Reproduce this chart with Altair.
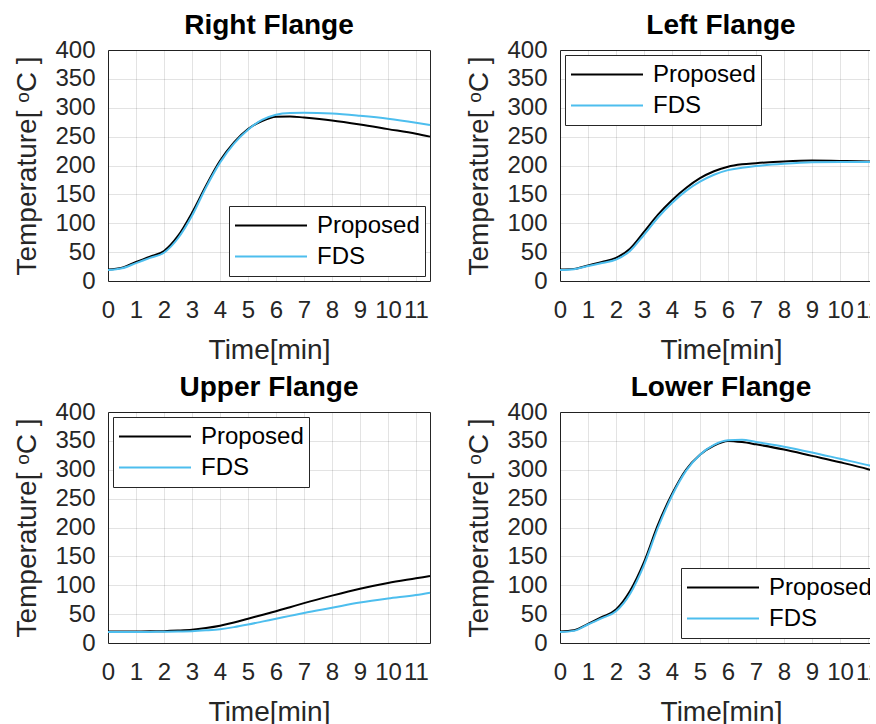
import altair as alt
import pandas as pd

# ---- data ----
times = [0, 0.5, 1, 1.5, 2, 2.5, 3, 3.5, 4, 4.5, 5, 5.5, 6, 6.5, 7, 8, 9, 10, 11, 11.5]

right_proposed = [20, 23, 33, 42, 52, 78, 118, 165, 208, 240, 263, 277, 284.5, 285, 283, 278, 271, 263, 255, 250]
right_fds = [19, 22, 31, 40, 49, 74, 113, 162, 205, 238, 262, 279, 288, 291, 291.5, 290, 286, 281, 274, 270]

left_proposed = [20, 21, 27, 33, 40, 56, 85, 115, 140, 161, 178, 190, 198, 202, 204, 207, 208.5, 208, 207, 205]
left_fds = [19, 20.5, 26, 31, 37, 52, 80, 110, 135, 156, 172, 184, 192, 196, 199, 203, 205.5, 206, 206, 205]

upper_proposed = [20, 20, 20, 20.2, 20.5, 21.5, 23, 26, 30, 35.5, 42, 48.5, 55, 62, 69, 82, 94, 104, 112, 116]
upper_fds = [19, 19, 19, 19.2, 19.5, 20, 20.5, 22, 24, 27.5, 32, 37, 42, 47, 52, 61, 70, 77, 83, 87]

lower_proposed = [20, 22, 33, 45, 58, 90, 140, 205, 258, 300, 326, 342, 350, 348, 344, 335, 324, 313, 301, 294]
lower_fds = [19, 21, 32, 43, 55, 85, 135, 200, 255, 298, 326, 343, 351, 352, 348, 340, 330, 319, 308, 302]

series_names = ["Proposed", "FDS"]
series_colors = ["#000000", "#4DBEEE"]
x_ticks = list(range(12))
y_ticks = [0, 50, 100, 150, 200, 250, 300, 350, 400]

panels = [
    ("Right Flange", right_proposed, right_fds, "bottom-right"),
    ("Left Flange", left_proposed, left_fds, "top-left"),
    ("Upper Flange", upper_proposed, upper_fds, "top-left"),
    ("Lower Flange", lower_proposed, lower_fds, "bottom-right"),
]

FONT = "Liberation Sans"
TXT = "#262626"


def make_panel(title, prop, fds, orient):
    n = len(times)
    df = pd.DataFrame({
        "t": times + times,
        "T": prop + fds,
        "series": [series_names[0]] * n + [series_names[1]] * n,
    })
    return (
        alt.Chart(df, title=alt.Title(title, font=FONT, fontSize=28, fontWeight="bold",
                                      color="#000000", offset=-2, anchor="middle",
                                      frame="group"))
        .mark_line(strokeWidth=2, interpolate="monotone")
        .encode(
            x=alt.X("t:Q", scale=alt.Scale(domain=[0, 11.5], nice=False, zero=False),
                    axis=alt.Axis(values=x_ticks, format="d", title="Time[min]",
                                  labelPadding=17, titlePadding=14, labelOverlap=False,
                                  labelFlush=False)),
            y=alt.Y("T:Q", scale=alt.Scale(domain=[0, 400], nice=False),
                    axis=alt.Axis(values=y_ticks, format="d", title="Temperature[ \u1d52C ]",
                                  labelPadding=13, titlePadding=13)),
            color=alt.Color("series:N",
                            scale=alt.Scale(domain=series_names, range=series_colors),
                            legend=alt.Legend(title=None, orient=orient, offset=5,
                                              strokeColor=TXT, fillColor="white",
                                              padding=5, labelFont=FONT, labelFontSize=24,
                                              labelColor="#000000", symbolType="stroke",
                                              symbolSize=5184, symbolStrokeWidth=2,
                                              clipHeight=29, rowPadding=2,
                                              labelOffset=9, cornerRadius=0)),
        )
        .properties(width=322, height=231)
    )


charts = [make_panel(*p) for p in panels]

row1 = alt.hconcat(charts[0], charts[1], spacing=30).resolve_scale(color="independent").resolve_legend(color="independent")
row2 = alt.hconcat(charts[2], charts[3], spacing=30).resolve_scale(color="independent").resolve_legend(color="independent")

chart = (
    alt.vconcat(row1, row2, spacing=8)
    .resolve_scale(color="independent")
    .resolve_legend(color="independent")
    .properties(padding={"left": 13, "top": 11, "right": -17, "bottom": -3})
    .configure_view(stroke=TXT, strokeWidth=1)
    .configure_axis(
        labelFont=FONT, labelFontSize=24, labelColor=TXT,
        titleFont=FONT, titleFontSize=28, titleFontWeight="normal", titleColor=TXT,
        grid=True, gridColor="#000000", gridOpacity=0.11, gridWidth=1,
        domain=False, ticks=False,
    )
)

chart.save("out.html", embed_options={"renderer": "svg", "actions": False})
